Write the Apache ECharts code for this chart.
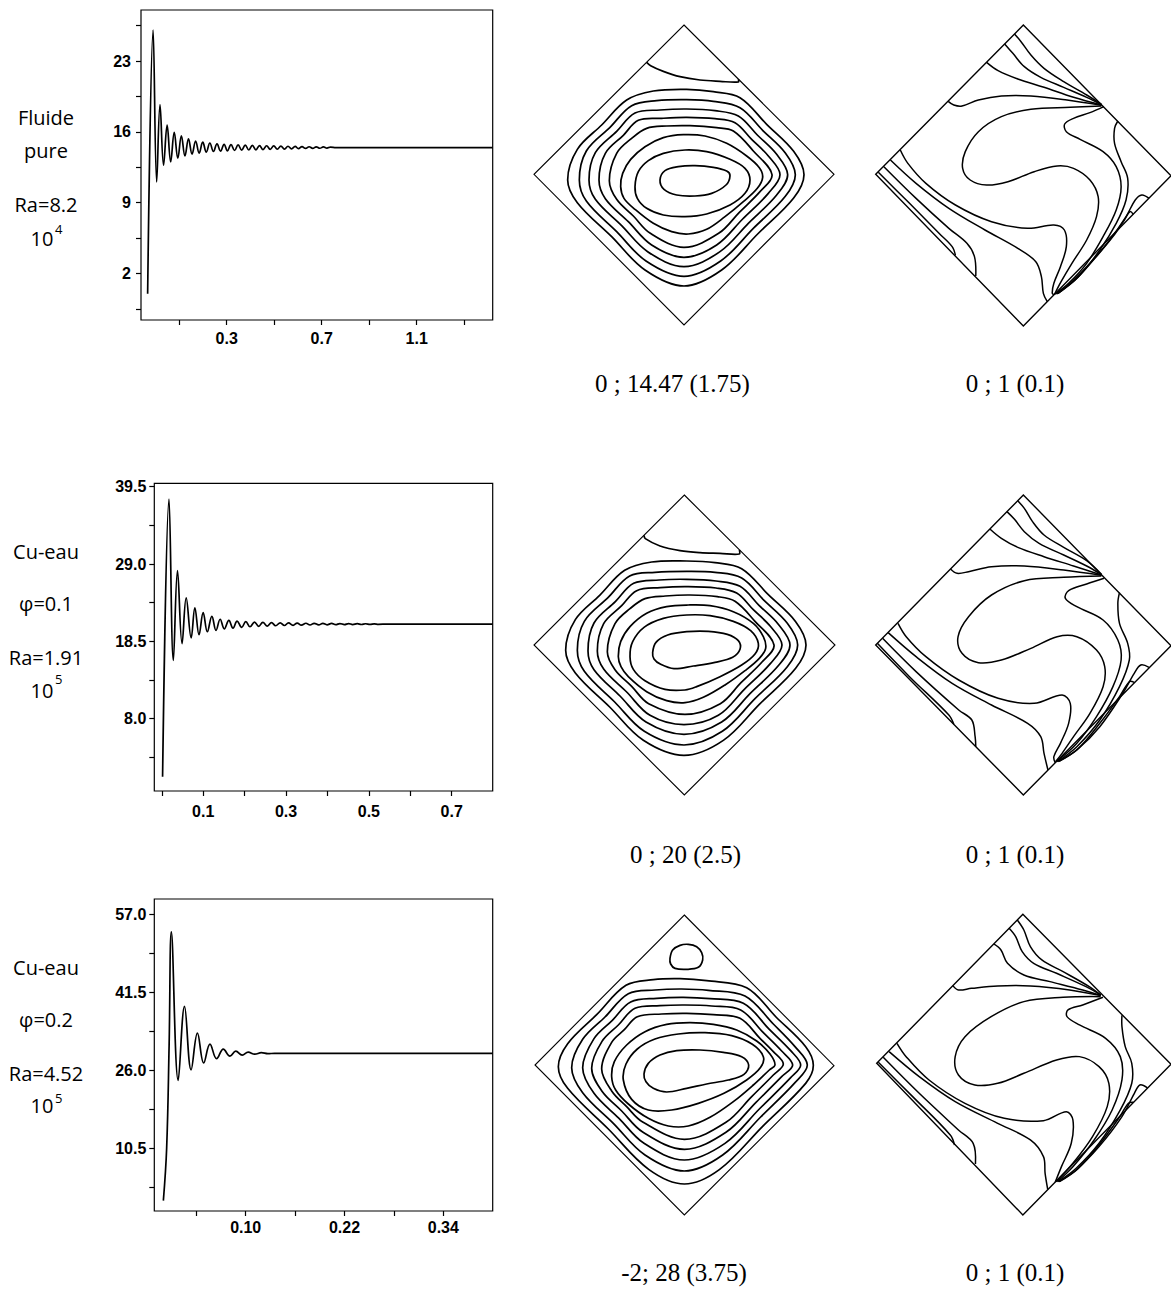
<!DOCTYPE html>
<html><head><meta charset="utf-8">
<script src="https://cdn.jsdelivr.net/npm/echarts@6/dist/echarts.min.js"></script>
<style>html,body{margin:0;padding:0;background:#fff}#c{width:1171px;height:1290px}</style>
</head><body><div id="c"></div>
<script>
// ================= time-series data =================
const t1 = [-0.033,-0.010,0.005,0.019,0.034,0.049,0.064,0.079,0.094,0.109,0.124,0.139,0.154,0.169,0.184,0.199,0.214,0.229,0.244,0.259,0.274,0.289,0.303,0.318,0.333,0.348,0.363,0.378,0.393,0.408,0.423,0.438,0.453,0.468,0.483,0.498,0.513,0.528,0.543,0.558,0.573,0.588,0.602,0.617,0.632,0.647,0.662,0.677,0.692,0.707,0.722,0.737,0.760,1.420];
const v1 = [0.0,26.07,11.05,18.7,12.7,16.66,13.03,15.95,13.4,15.6,13.62,15.3,13.8,15.1,13.9,14.98,14.0,14.9,14.06,14.82,14.1,14.77,14.13,14.74,14.16,14.71,14.19,14.69,14.21,14.67,14.23,14.65,14.25,14.63,14.27,14.61,14.29,14.6,14.3,14.58,14.32,14.56,14.34,14.54,14.36,14.53,14.37,14.52,14.38,14.51,14.39,14.5,14.45,14.45];
const t2 = [0.002,0.0175,0.028,0.038,0.049,0.059,0.071,0.080,0.090,0.100,0.110,0.121,0.131,0.141,0.151,0.162,0.172,0.182,0.193,0.203,0.213,0.224,0.234,0.244,0.255,0.265,0.275,0.286,0.296,0.306,0.317,0.327,0.337,0.348,0.358,0.368,0.379,0.389,0.399,0.410,0.420,0.430,0.441,0.451,0.461,0.472,0.482,0.492,0.503,0.513,0.523,0.545,0.799];
const v2 = [0.1,37.8,15.9,28.1,18.2,24.4,18.96,23.06,19.4,22.4,19.8,21.9,20.0,21.5,20.2,21.35,20.3,21.25,20.4,21.18,20.48,21.12,20.54,21.08,20.58,21.05,20.62,21.02,20.65,21.0,20.68,20.98,20.7,20.96,20.72,20.95,20.74,20.94,20.75,20.93,20.76,20.92,20.77,20.91,20.78,20.9,20.79,20.89,20.8,20.88,20.81,20.85,20.85];
const t3 = [0.0,0.004,0.007,0.0097,0.018,0.0257,0.0337,0.0414,0.049,0.0566,0.0647,0.0728,0.0809,0.088,0.0958,0.103,0.111,0.119,0.127,0.135,0.40];
const v3 = [0.1,10.5,31,53.5,24.0,38.7,26.1,33.4,27.45,31.2,28.3,30.2,28.8,29.8,29.0,29.6,29.2,29.5,29.3,29.38,29.38];

// axis ranges and tick labels
const p1X = [-0.061, 1.42], p1Y = [-2.6, 28.05];
const p1XLabels = [0.3, 0.7, 1.1], p1XTicks = [0.1, 0.3, 0.5, 0.7, 0.9, 1.1, 1.3];
const p1YLabels = [2, 9, 16, 23], p1YTicks = [-1.5, 2, 5.5, 9, 12.5, 16, 19.5, 23, 26.5];
const p2X = [-0.018, 0.799], p2Y = [-1.82, 39.96];
const p2XLabels = [0.1, 0.3, 0.5, 0.7], p2XTicks = [0, 0.1, 0.2, 0.3, 0.4, 0.5, 0.6, 0.7];
const p2YLabels = [8.0, 18.5, 29.0, 39.5], p2YTicks = [2.75, 8, 13.25, 18.5, 23.75, 29, 34.25, 39.5];
const p3X = [-0.011, 0.40], p3Y = [-1.96, 60.04];
const p3XLabels = [0.10, 0.22, 0.34], p3XTicks = [0.04, 0.10, 0.16, 0.22, 0.28, 0.34];
const p3YLabels = [10.5, 26.0, 41.5, 57.0], p3YTicks = [2.75, 10.5, 18.25, 26, 33.75, 41.5, 49.25, 57];

// ================= cavity diagrams (digitised contour coordinates) =================
// --- row 1, streamlines (frame x 42..942, y 75..975) ---
const midR1Walls = [[492,75],[942,523],[492,975],[42,523]];
const midR1Cell = [[380,187],[392,197],[430,214],[480,230],[540,240],[600,244],[655,246],[655,238]];
const midR1Rings = [
 [[143,540],[172,448],[245,375],[320,300],[400,273],[500,268],[580,275],[660,293],[740,373],[821,454],[852,524],[821,594],[713,702],[605,810],[492,858],[375,810],[275,710],[172,608]],
 [[178,540],[199,453],[270,382],[335,317],[410,302],[500,299],[580,304],[660,323],[728,391],[796,459],[826,524],[796,589],[700,685],[602,783],[492,829],[378,783],[290,695],[199,603]],
 [[207,540],[226,458],[290,394],[345,339],[420,330],[500,327],[585,332],[655,348],[712,405],[770,463],[803,524],[770,585],[685,670],[600,755],[492,800],[383,755],[305,677],[226,598]],
 [[237,540],[256,460],[310,406],[355,361],[425,355],[500,352],[585,356],[645,368],[695,418],[745,468],[780,524],[745,580],[668,657],[590,735],[492,772],[395,735],[325,665],[256,596]],
 [[268,542],[290,460],[335,415],[380,385],[440,378],[510,377],[590,383],[640,393],[700,453],[756,524],[720,575],[658,637],[596,700],[492,742],[391,700],[340,648],[290,598]],
 [[302,560],[308,520],[332,478],[375,440],[430,413],[490,404],[555,408],[620,430],[680,468],[718,503],[728,532],[712,565],[670,605],[615,650],[560,688],[505,702],[455,695],[400,670],[345,628],[312,595]],
 [[345,560],[355,515],[385,482],[430,460],[495,450],[560,455],[630,478],[675,505],[690,540],[675,580],[630,615],[560,642],[495,650],[430,645],[380,625],[352,595]],
 [[420,540],[435,512],[475,500],[525,497],[580,502],[620,513],[630,527],[618,555],[575,580],[525,588],[470,585],[432,568]]
];
// --- row 2, streamlines (frame x 42..942, y 105..1005) ---
const midR2Walls = [[493,105],[945,555],[493,1005],[42,555]];
const midR2Cell = [[372,226],[376,236],[420,258],[480,272],[540,278],[600,280],[658,282],[658,270]];
const midR2Rings = [
 [[137,571],[166,479],[239,406],[314,331],[395,306],[500,303],[585,308],[665,326],[745,404],[827,485],[858,555],[827,625],[718,733],[610,841],[492,886],[370,841],[269,741],[166,639]],
 [[172,571],[193,484],[264,413],[329,348],[405,337],[500,334],[585,337],[665,354],[733,422],[802,490],[833,555],[802,620],[705,716],[607,814],[492,855],[373,814],[284,726],[193,634]],
 [[204,573],[222,489],[286,425],[341,370],[417,360],[500,358],[588,363],[660,379],[717,436],[776,494],[810,555],[776,616],[690,701],[605,786],[492,823],[378,786],[300,708],[222,629]],
 [[232,573],[251,491],[305,437],[350,392],[421,383],[500,380],[588,384],[650,399],[700,449],[751,499],[786,555],[751,611],[673,688],[595,766],[492,794],[390,766],[320,696],[251,627]],
 [[262,575],[285,491],[330,446],[375,416],[436,408],[510,405],[592,410],[645,424],[705,484],[762,555],[726,606],[663,668],[601,731],[495,763],[386,731],[335,679],[285,629]],
 [[295,590],[302,545],[330,500],[380,460],[440,440],[505,435],[570,437],[640,455],[700,490],[730,530],[737,565],[718,595],[675,632],[615,675],[550,712],[495,728],[440,722],[380,695],[325,650],[303,620]],
 [[330,590],[338,545],[372,502],[430,475],[500,465],[570,467],[640,484],[692,512],[715,550],[705,582],[665,615],[600,650],[530,680],[495,690],[435,688],[375,662],[340,628]],
 [[398,577],[408,547],[443,525],[500,515],[565,514],[622,523],[655,542],[660,568],[638,592],[585,607],[520,618],[462,626],[422,613],[402,597]]
];
// --- row 3, streamlines (frame x 45..945, y 105..1005) ---
const midR3Walls = [[493,105],[942,557],[493,1005],[45,555]];
const midR3Cell = [[450,235],[458,210],[480,196],[505,193],[530,200],[545,218],[548,240],[535,262],[500,268],[465,265],[452,252]];
const midR3Rings = [
 [[115,560],[143,491],[230,404],[318,316],[400,299],[480,296],[560,302],[680,323],[768,411],[857,500],[880,556],[857,610],[728,739],[598,869],[493,912],[386,868],[265,747],[143,625]],
 [[155,563],[188,478],[255,411],[325,341],[405,330],[485,327],[565,331],[675,348],[760,432],[825,500],[862,555],[825,608],[722,711],[608,825],[493,873],[375,825],[280,730],[188,638]],
 [[188,563],[222,476],[277,421],[332,366],[410,355],[490,352],[570,356],[670,370],[748,448],[812,512],[842,555],[812,593],[718,687],[615,790],[493,840],[372,790],[297,715],[222,640]],
 [[215,565],[246,484],[295,435],[345,385],[420,377],[495,375],[575,378],[662,390],[730,458],[785,513],[818,555],[785,590],[708,667],[618,757],[493,808],[368,756],[305,693],[246,634]],
 [[245,567],[275,487],[313,449],[352,410],[425,402],[500,400],[580,404],[660,415],[720,475],[760,515],[790,552],[760,585],[695,650],[618,727],[493,778],[368,726],[320,680],[275,633]],
 [[275,590],[283,545],[320,495],[375,455],[440,433],[510,428],[580,433],[650,450],[710,483],[750,522],[765,555],[748,570],[700,615],[640,665],[570,712],[505,738],[445,738],[385,715],[325,672],[287,630]],
 [[310,600],[318,552],[352,507],[405,477],[475,462],[555,458],[635,467],[697,493],[730,530],[722,562],[680,600],[612,640],[535,670],[455,690],[385,690],[335,658]],
 [[372,582],[385,550],[420,525],[470,512],[540,510],[610,517],[665,530],[686,555],[672,583],[625,600],[560,612],[500,625],[440,636],[400,625],[378,605]]
];
// --- isotherms, row 1 (frame x 47..947, y 75..975) ---
const rightR1Walls = [[497,75],[947,527],[497,978],[47,523]];
const rightR1Lines = [
 [[470,102],[490,125],[520,165],[560,205],[620,245],[690,285],[735,313]],
 [[440,132],[465,160],[500,200],[550,232],[620,262],[690,292],[735,314]],
 [[385,187],[420,212],[480,237],[560,262],[650,292],[735,315]],
 [[268,304],[285,315],[310,318],[360,300],[430,288],[520,288],[630,300],[735,316]],
 [[735,318],[640,322],[520,328],[430,350],[360,395],[320,455],[312,505],[335,540],[385,555],[450,545],[530,515],[600,498],[650,505],[700,540],[725,590],[720,650],[690,720],[645,790],[612,845],[592,883]],
 [[742,320],[700,338],[650,355],[623,372],[628,395],[670,418],[740,455],[780,500],[795,560],[780,630],[740,710],[690,790],[635,850],[594,882]],
 [[785,363],[775,385],[775,430],[795,485],[815,535],[810,600],[780,670],[730,750],[665,830],[597,882]],
 [[880,595],[858,585],[838,600],[810,650],[760,720],[700,790],[640,850],[600,882]],
 [[832,643],[822,635],[805,660],[770,710],[715,775],[655,840],[603,880]],
 [[55,517],[150,610],[240,700],[280,740],[290,766]],
 [[72,500],[170,595],[270,685],[325,730],[348,770],[352,828]],
 [[92,480],[170,550],[270,625],[380,690],[480,745],[535,785],[552,830],[558,880],[570,905]],
 [[122,450],[145,490],[200,550],[290,615],[400,665],[510,685],[590,675],[622,690],[628,740],[610,800],[590,850],[585,880],[591,884]]
];
// --- isotherms, row 2 (frame x 47..947, y 105..1005) ---
const rightR2Walls = [[497,105],[947,557],[497,1005],[47,555]];
const rightR2Lines = [
 [[480,122],[500,145],[525,185],[560,225],[620,262],[690,302],[735,343]],
 [[447,155],[470,178],[500,215],[545,250],[620,285],[690,318],[735,344]],
 [[395,207],[430,235],[480,262],[560,290],[650,318],[735,345]],
 [[275,327],[295,340],[330,335],[400,320],[500,318],[620,330],[735,346]],
 [[735,348],[620,352],[500,362],[400,405],[330,470],[298,530],[310,580],[360,608],[430,600],[520,565],[600,530],[660,530],[720,570],[745,620],[740,680],[700,760],[650,830],[615,880],[595,905]],
 [[743,355],[690,372],[635,392],[625,415],[660,440],[740,480],[785,540],[795,600],[770,680],[720,770],[660,850],[598,905]],
 [[790,398],[785,430],[790,490],[815,550],[820,600],[790,680],[730,780],[660,860],[601,905]],
 [[880,622],[855,615],[835,640],[800,700],[730,800],[660,870],[604,905]],
 [[835,667],[820,665],[790,710],[730,790],[665,865],[607,903]],
 [[52,550],[150,650],[270,765],[285,793]],
 [[68,535],[170,635],[300,750],[340,780],[350,830],[352,860]],
 [[85,518],[170,590],[280,670],[400,735],[510,790],[550,830],[560,880],[572,930]],
 [[115,490],[140,530],[200,590],[300,660],[420,715],[530,730],[615,705],[640,730],[635,790],[610,850],[590,890],[594,908]]
];
// --- isotherms, row 3 (frame x 50..950, y 103..1003) ---
const rightR3Walls = [[497,103],[950,553],[497,1005],[50,550]];
const rightR3Lines = [
 [[480,120],[500,150],[520,200],[555,240],[620,275],[700,320],[735,345]],
 [[455,145],[475,170],[495,215],[530,250],[600,280],[690,320],[735,345]],
 [[408,192],[430,210],[450,250],[500,285],[580,305],[680,330],[735,346]],
 [[283,317],[300,330],[340,325],[420,318],[520,318],[640,330],[735,347]],
 [[735,350],[620,352],[500,365],[400,410],[320,470],[290,530],[300,585],[350,615],[420,610],[500,580],[600,540],[670,530],[730,560],[760,610],[755,680],[710,770],[650,850],[598,905]],
 [[742,352],[680,375],[635,390],[632,410],[670,435],[750,475],[795,530],[800,600],[770,690],[715,780],[650,860],[602,905]],
 [[800,406],[800,440],[810,500],[830,550],[830,610],[795,690],[730,790],[660,865],[605,905]],
 [[878,624],[855,615],[838,640],[800,710],[730,800],[660,870],[607,905]],
 [[835,667],[820,670],[790,715],[730,795],[665,867],[609,905]],
 [[55,547],[160,650],[275,765],[288,795]],
 [[70,532],[180,640],[300,750],[345,790],[352,852]],
 [[88,515],[180,590],[290,665],[420,730],[520,780],[560,830],[565,880],[573,928]],
 [[112,490],[140,530],[210,600],[320,670],[440,715],[560,722],[630,695],[650,720],[645,790],[615,860],[596,906]]
];

// ================= texts =================
const rowLabels = [
  ['Fluide', 'pure', 'Ra=8.2', '10', '4'],
  ['Cu-eau', 'φ=0.1', 'Ra=1.91', '10', '5'],
  ['Cu-eau', 'φ=0.2', 'Ra=4.52', '10', '5']
];
const captions = [
  ['0 ; 14.47 (1.75)', '0 ; 1 (0.1)'],
  ['0 ; 20 (2.5)', '0 ; 1 (0.1)'],
  ['-2; 28 (3.75)', '0 ; 1 (0.1)']
];

// ================= build =================
const chart = echarts.init(document.getElementById('c'), null, {renderer: 'svg'});
const AX_FONT = "'Liberation Sans',Arial,sans-serif";
const zip = (a, b) => a.map((x, i) => [x, b[i]]);

function plotAxes(gi, xr, yr, xl, xt, yl, yt, xfmt, yfmt, xm, ym) {
  const lab = {fontSize: 16, fontWeight: 'bold', fontFamily: AX_FONT, color: '#000'};
  return {
    x: {gridIndex: gi, type: 'value', min: xr[0], max: xr[1],
        axisLine: {show: false, onZero: false}, splitLine: {show: false},
        axisTick: {show: true, customValues: xt, length: 5, lineStyle: {color: '#000', width: 1.2}},
        axisLabel: Object.assign({customValues: xl, formatter: xfmt, margin: xm}, lab)},
    y: {gridIndex: gi, type: 'value', min: yr[0], max: yr[1],
        axisLine: {show: false, onZero: false}, splitLine: {show: false},
        axisTick: {show: true, customValues: yt, length: 5, lineStyle: {color: '#000', width: 1.2}},
        axisLabel: Object.assign({customValues: yl, formatter: yfmt, margin: ym}, lab)}
  };
}
const a1 = plotAxes(0, p1X, p1Y, p1XLabels, p1XTicks, p1YLabels, p1YTicks, v => v.toFixed(1), v => String(v), 10, 10);
const a2 = plotAxes(1, p2X, p2Y, p2XLabels, p2XTicks, p2YLabels, p2YTicks, v => v.toFixed(1), v => v.toFixed(1), 12, 8);
const a3 = plotAxes(2, p3X, p3Y, p3XLabels, p3XTicks, p3YLabels, p3YTicks, v => v.toFixed(2), v => v.toFixed(1), 8, 8);

const diagrams = [
  {grid: {left: 534, top: 25}, fx: [42, 942], fy: [75, 975], walls: midR1Walls, curves: [midR1Cell], rings: midR1Rings, lw: 1.7, ww: 1.1},
  {grid: {left: 875.7, top: 25}, fx: [47, 947], fy: [75, 975], walls: rightR1Walls, curves: rightR1Lines, rings: [], lw: 1.5, ww: 1.4},
  {grid: {left: 534, top: 495}, fx: [42, 942], fy: [105, 1005], walls: midR2Walls, curves: [midR2Cell], rings: midR2Rings, lw: 1.7, ww: 1.1},
  {grid: {left: 875.7, top: 495}, fx: [47, 947], fy: [105, 1005], walls: rightR2Walls, curves: rightR2Lines, rings: [], lw: 1.5, ww: 1.4},
  {grid: {left: 535, top: 915}, fx: [45, 945], fy: [105, 1005], walls: midR3Walls, curves: [], rings: midR3Rings.concat([midR3Cell]), lw: 1.7, ww: 1.1},
  {grid: {left: 876.7, top: 914.3}, fx: [50, 950], fy: [103, 1003], walls: rightR3Walls, curves: rightR3Lines, rings: [], lw: 1.5, ww: 1.4}
];

const grids = [
  {left: 141, top: 10, width: 351.7, height: 310},
  {left: 154.3, top: 483.3, width: 338.4, height: 307.7},
  {left: 154.3, top: 899, width: 338.4, height: 312}
].map(g => Object.assign({show: true, borderColor: '#000', borderWidth: 1.2, backgroundColor: 'transparent'}, g));
const xAxes = [a1.x, a2.x, a3.x], yAxes = [a1.y, a2.y, a3.y];

const series = [
  [t1, v1], [t2, v2], [t3, v3]
].map((p, i) => ({
  type: 'line', xAxisIndex: i, yAxisIndex: i, data: zip(p[0], p[1]),
  showSymbol: false, smooth: 0.4, lineStyle: {color: '#000', width: 1.7}, silent: true, animation: false
}));

function curveSeries(gi, list, closed, lw) {
  return {
    type: 'custom', coordinateSystem: 'cartesian2d', xAxisIndex: gi, yAxisIndex: gi,
    silent: true, animation: false, clip: false,
    data: list.map(c => [c[0][0], c[0][1]]),
    renderItem: (params, api) => {
      const pts = list[params.dataIndex].map(p => api.coord(p));
      return {type: closed ? 'polygon' : 'polyline',
              shape: {points: pts, smooth: closed === 'sharp' ? 0 : 0.35},
              style: {fill: 'none', stroke: '#000', lineWidth: lw}};
    }
  };
}

diagrams.forEach((d, k) => {
  const gi = 3 + k;
  grids.push({left: d.grid.left, top: d.grid.top, width: 300, height: 300, show: false});
  xAxes.push({gridIndex: gi, type: 'value', min: d.fx[0], max: d.fx[1], show: false});
  yAxes.push({gridIndex: gi, type: 'value', min: d.fy[0], max: d.fy[1], inverse: true, show: false});
  series.push(curveSeries(gi, [d.walls], 'sharp', d.ww));
  if (d.rings.length) series.push(curveSeries(gi, d.rings, true, d.lw));
  if (d.curves.length) series.push(curveSeries(gi, d.curves, false, d.lw));
});

// text graphics
const graphic = [];
const labelPos = [
  {ys: [117, 150, 204, 238], sup: 229},
  {ys: [551, 603, 657, 690.5], sup: 679},
  {ys: [967, 1019, 1073, 1105.5], sup: 1097.5}
];
const LFONT = "'Open Sans','Noto Sans',sans-serif";
rowLabels.forEach((r, i) => {
  const p = labelPos[i];
  for (let j = 0; j < 3; j++) {
    graphic.push({type: 'text', x: 46, y: p.ys[j], silent: true,
      style: {text: r[j], align: 'center', verticalAlign: 'middle', font: '20px ' + LFONT, fill: '#000'}});
  }
  graphic.push({type: 'text', x: 42, y: p.ys[3], silent: true,
    style: {text: r[3], align: 'center', verticalAlign: 'middle', font: '20px ' + LFONT, fill: '#000'}});
  graphic.push({type: 'text', x: 55, y: p.sup, silent: true,
    style: {text: r[4], align: 'left', verticalAlign: 'middle', font: '13px ' + LFONT, fill: '#000'}});
});
const capPos = [[672.5, 1015, 383], [685.5, 1015, 854], [684, 1015, 1272]];
captions.forEach((c, i) => {
  graphic.push({type: 'text', x: capPos[i][0], y: capPos[i][2], silent: true,
    style: {text: c[0], align: 'center', verticalAlign: 'middle', font: "25px 'Liberation Serif','Times New Roman',serif", fill: '#000'}});
  graphic.push({type: 'text', x: capPos[i][1], y: capPos[i][2], silent: true,
    style: {text: c[1], align: 'center', verticalAlign: 'middle', font: "25px 'Liberation Serif','Times New Roman',serif", fill: '#000'}});
});

chart.setOption({
  animation: false,
  backgroundColor: '#fff',
  grid: grids, xAxis: xAxes, yAxis: yAxes, series: series, graphic: graphic
});
</script></body></html>
